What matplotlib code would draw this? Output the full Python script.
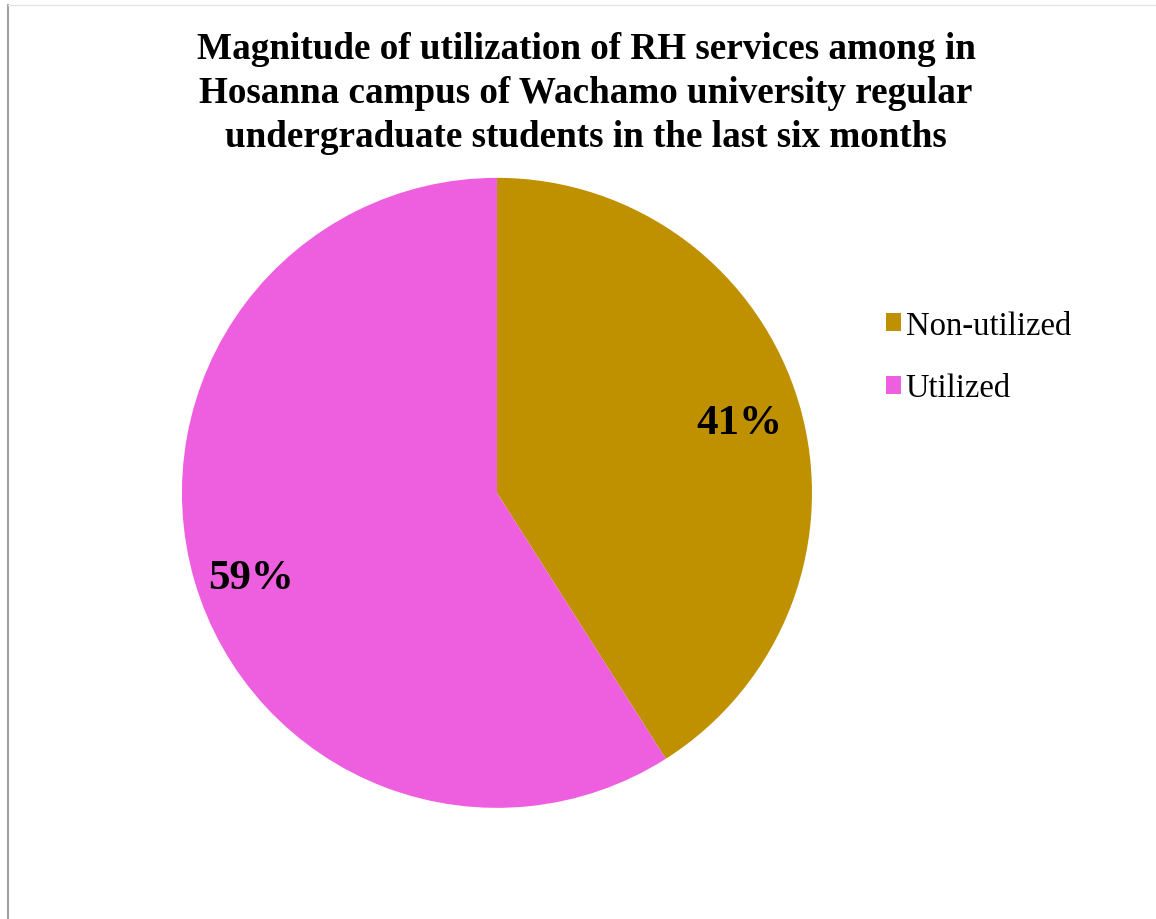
import matplotlib

matplotlib.use("Agg")

import matplotlib.pyplot as plt
from matplotlib.lines import Line2D
from matplotlib.patches import Patch

# Data
labels = ["Non-utilized", "Utilized"]
shares = [41, 59]
colors = ["#BF9000", "#EE5FDF"]

title = ("Magnitude of utilization of RH services among in\n"
         "Hosanna campus of Wachamo university regular\n"
         "undergraduate students in the last six months")

plt.rcParams["font.family"] = ["Liberation Serif", "DejaVu Serif"]

fig = plt.figure(figsize=(11.56, 9.2), dpi=100)

# pie centred at about (497, 494) px, radius ~315 px
ax = fig.add_axes([0.1574, 0.1207, 0.545, 0.685])
wedges, texts, autotexts = ax.pie(
    shares, colors=colors, startangle=90, counterclock=False,
    autopct="%.0f%%", pctdistance=0.8,
    textprops=dict(fontsize=31, fontweight="bold", color="black"))
ax.set_xlim(-1, 1)
ax.set_ylim(-1, 1)
ax.set_aspect("equal")
# the original puts the larger label a little lower
autotexts[1].set_position((-0.78, -0.27))

fig.text(0.507, 0.965, title, ha="center", va="top", fontsize=26.7,
         fontweight="bold", linespacing=1.33)

handles = [Patch(facecolor=c, label=l) for c, l in zip(colors, labels)]
fig.legend(handles=handles, loc="center left", bbox_to_anchor=(0.741, 0.611),
           frameon=False, fontsize=23.5, handlelength=0.45, handleheight=0.45,
           handletextpad=0.15, labelspacing=0.98)

# thin frame lines of the original image
fig.add_artist(Line2D([0.0065, 0.0065], [0.0, 0.994], transform=fig.transFigure,
                      color="#a0a0a0", lw=1.5))
fig.add_artist(Line2D([0.0065, 1.0], [0.994, 0.994], transform=fig.transFigure,
                      color="#e4e4e4", lw=1.0))

fig.savefig("out.png", dpi=100)
